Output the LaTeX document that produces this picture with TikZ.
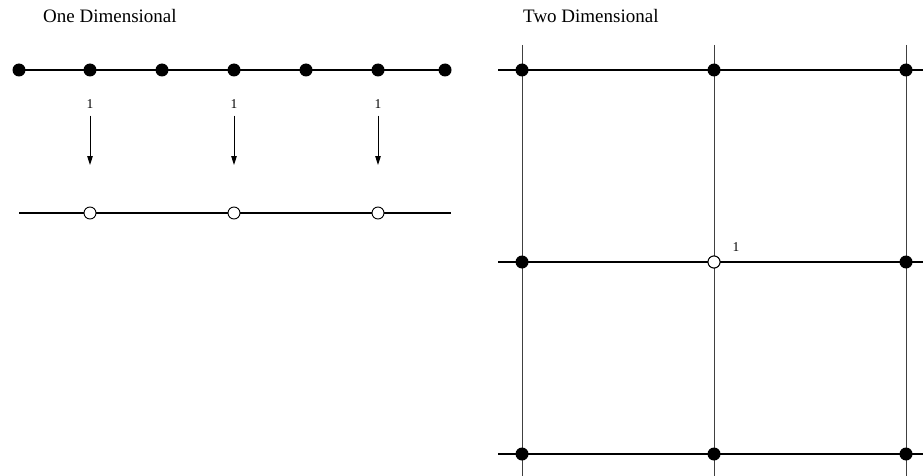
\documentclass[tikz,border=0pt]{standalone}
\usepackage{fontspec}
\setmainfont{Liberation Serif}
\usetikzlibrary{arrows.meta}
\begin{document}
\begin{tikzpicture}[x=1pt, y=-1pt,
  fulldot/.style={circle, fill=black, inner sep=0pt, minimum size=13pt},
  opendot/.style={circle, draw=black, fill=white, line width=0.9pt, inner sep=0pt, minimum size=12pt},
  title/.style={anchor=base west, inner sep=0pt, font=\fontsize{19}{22}\selectfont},
  lab/.style={inner sep=0pt, font=\fontsize{13.5}{16}\selectfont},
  arr/.style={line width=1pt, -{Triangle[length=9pt, width=5.5pt]}}]
\useasboundingbox (0,0) rectangle (923,476);
% one dimensional
\node[title] (one) at (43,23) {One Dimensional};
\foreach \i/\x in {1/19, 2/90, 3/162, 4/234, 5/306, 6/378, 7/445}
  \coordinate (t\i) at (\x,70);
\draw[line width=1.6pt] (t1) -- (t7);
\foreach \i in {1,...,7}
  \node[fulldot] (f\i) at (t\i) {};
\coordinate (bl) at (19,213);
\coordinate (br) at (451,213);
\draw[line width=1.3pt] (bl) -- (br);
\foreach \i/\x in {1/90, 2/234, 3/378} {
  \node[opendot] (c\i) at (\x,213) {};
  \node[lab] (l\i) at (\x,104) {1};
  \coordinate (a\i) at (\x,165);
  \draw[arr] ([yshift=-7pt]l\i.south) -- (a\i);
}
% two dimensional
\node[title] (two) at (523,23) {Two Dimensional};
\foreach \i/\x in {1/522, 2/714, 3/906} {
  \coordinate (vt\i) at (\x,45);
  \coordinate (vb\i) at (\x,476);
  \draw[line width=0.9pt, black!75] (vt\i) -- (vb\i);
}
\foreach \j/\y in {1/70, 2/262, 3/454} {
  \coordinate (hl\j) at (498,\y);
  \coordinate (hr\j) at (923,\y);
  \draw[line width=1.3pt] (hl\j) -- (hr\j);
}
\foreach \i/\x in {1/522, 2/714, 3/906}
  \foreach \j/\y in {1/70, 2/262, 3/454}
    \node[fulldot] (g\i\j) at (\x,\y) {};
\node[opendot] (g22) at (714,262) {};
\node[lab] (mid) at (736,247) {1};
\end{tikzpicture}
\end{document}
